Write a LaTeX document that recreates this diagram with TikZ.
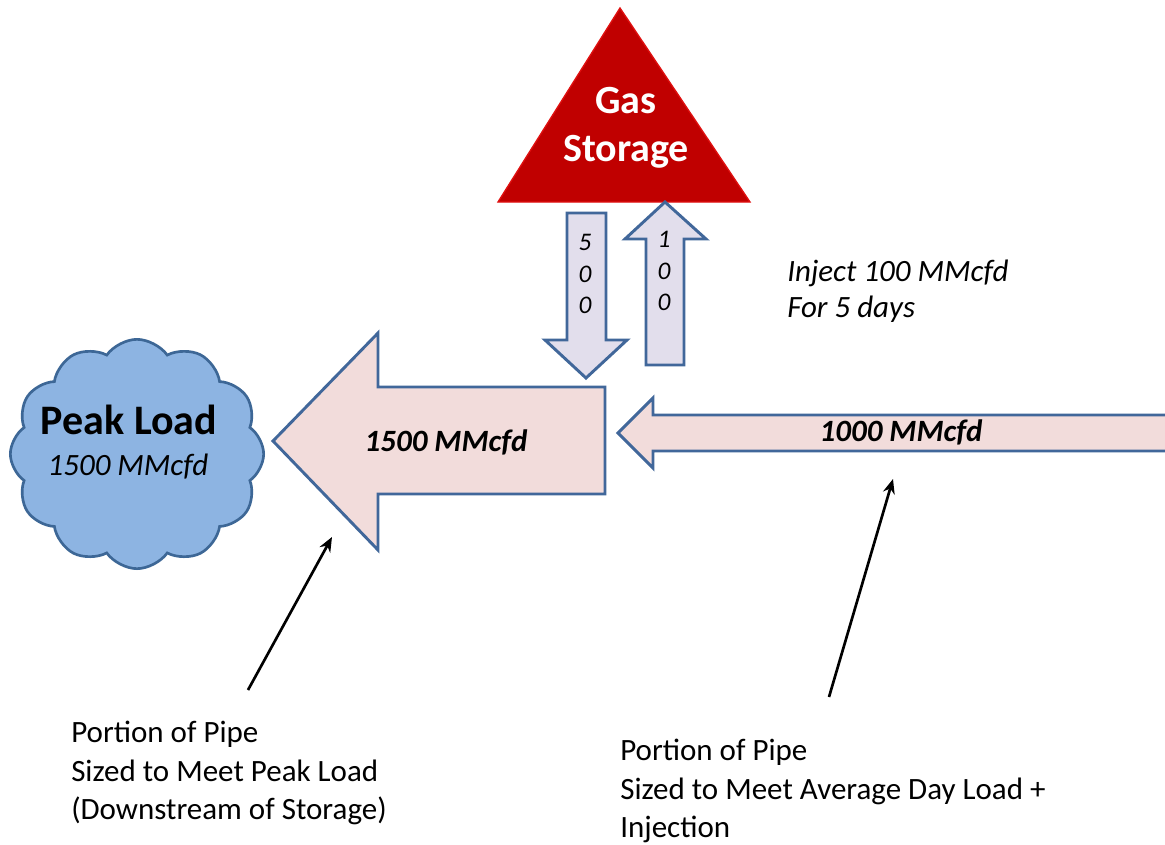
\documentclass[tikz,border=0pt]{standalone}
\usepackage{fontspec}
\setmainfont{Carlito}
\usetikzlibrary{shapes.symbols,arrows.meta}
\definecolor{outl}{HTML}{41679A}
\definecolor{pinkfill}{HTML}{F2DCDB}
\definecolor{lavfill}{HTML}{E2DEEC}
\definecolor{cloudfill}{HTML}{8DB4E2}
\definecolor{cloudedge}{HTML}{3D6796}
\definecolor{gsred}{HTML}{C00000}
\definecolor{gsedge}{HTML}{E01010}
\tikzset{
  pipe/.style={draw=outl, line width=2.2pt, line join=miter, fill=pinkfill},
  vpipe/.style={draw=outl, line width=2.2pt, line join=miter, fill=lavfill},
  note/.style={font=\fontsize{23.25pt}{29pt}\selectfont, align=left, inner sep=0pt},
  flowlbl/.style={font=\fontsize{23.25pt}{28pt}\selectfont\bfseries\itshape, inner sep=0pt},
  digits/.style={font=\fontsize{19pt}{23.5pt}\selectfont\itshape, align=center, inner sep=0pt},
  pointer/.style={draw=black, line width=2pt, -{Stealth[length=11pt,width=9pt]}}
}
\begin{document}
\begin{tikzpicture}[x=0.75pt,y=-0.75pt]
\useasboundingbox (0,0) rectangle (1165,844);
\fill[white] (0,0) rectangle (1165,844);

% Gas storage triangle
\draw[fill=gsred, draw=gsedge, line width=1pt] (620,8) -- (750,202) -- (498,202) -- cycle;
\node[text=white, font=\fontsize{30pt}{36pt}\selectfont\bfseries, align=center, inner sep=0pt] (gs) at (626,128) {Gas\\Storage};

% vertical arrows
\draw[vpipe] (567,213) -- (606,213) -- (606,340) -- (627,340) -- (586,378) -- (545,340) -- (567,340) -- cycle;
\draw[vpipe] (646,365) -- (684,365) -- (684,239) -- (706,239) -- (665,202) -- (625,239) -- (646,239) -- cycle;
\node[digits] (d500) at (585,274) {5\\0\\0};
\node[digits] (d100) at (664,271) {1\\0\\0};

\node[note, font=\fontsize{23.25pt}{27pt}\selectfont\itshape, anchor=west] (inj) at (787,291) {Inject 100 MMcfd\\For 5 days};

% big arrow
\draw[pipe] (605,387) -- (378,387) -- (378,333) -- (273,441) -- (378,550) -- (378,494) -- (605,494) -- cycle;
\node[flowlbl] (f1500) at (446,442) {1500 MMcfd};

% upstream arrow (open at right edge)
\begin{scope}
\clip (0,0) rectangle (1165,844);
\fill[pinkfill] (1170,415) -- (653,415) -- (653,398) -- (618,433) -- (653,468) -- (653,451) -- (1170,451) -- cycle;
\draw[outl, line width=2.2pt, line join=miter] (1170,415) -- (653,415) -- (653,398) -- (618,433) -- (653,468) -- (653,451) -- (1170,451);
\end{scope}
\node[flowlbl] (f1000) at (901,432) {1000 MMcfd};

% cloud
\node[cloud, cloud puffs=12, cloud puff arc=110, aspect=1.1, draw=cloudedge, line width=2pt, fill=cloudfill,
      minimum width=190pt, minimum height=172pt, inner sep=0pt] (cloud) at (137,454) {};
\node[font=\fontsize{31.5pt}{36pt}\selectfont\bfseries, inner sep=0pt] (pl) at (129,420) {Peak Load};
\node[font=\fontsize{23.25pt}{28pt}\selectfont\itshape, inner sep=0pt] (plv) at (128,467) {1500 MMcfd};

% notes
\node[note, anchor=west] (n1) at (71,773) {Portion of Pipe\\Sized to Meet Peak Load\\(Downstream of Storage)};
\node[note, anchor=west] (n2) at (620,791) {Portion of Pipe\\Sized to Meet Average Day Load +\\Injection};

\coordinate (t1) at (248,690);
\coordinate (h1) at (332,537);
\coordinate (t2) at (829,697);
\coordinate (h2) at (893,479);
\draw[pointer] (t1) -- (h1);
\draw[pointer] (t2) -- (h2);
\end{tikzpicture}
\end{document}
